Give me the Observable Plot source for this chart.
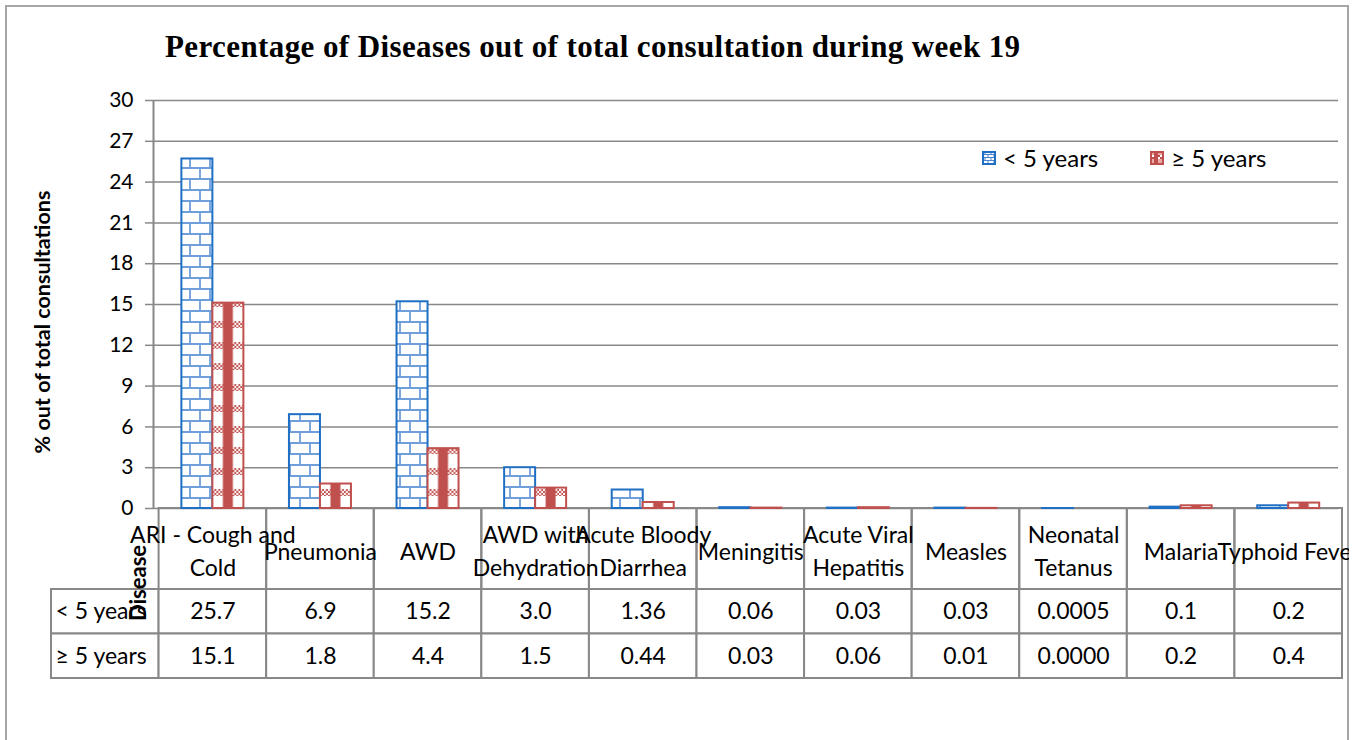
<!DOCTYPE html>
<html>
<head>
<meta charset="utf-8">
<script src="https://cdn.jsdelivr.net/npm/d3@7"></script>
<script src="https://cdn.jsdelivr.net/npm/@observablehq/plot@0.6"></script>
<style>
  html, body { margin: 0; padding: 0; background: #fff; }
  #wrap { position: relative; width: 1355px; height: 740px; overflow: hidden; background: #fff; font-family: Lato, sans-serif; }
  #frame { position: absolute; left: 5px; top: 5px; width: 1344px; height: 800px; border: 2px solid #a6a6a6; box-sizing: border-box; }
  #title { position: absolute; left: 165px; top: 29px; font-family: "Liberation Serif", serif; font-weight: bold; font-size: 31px; letter-spacing: 0.4px; white-space: nowrap; color: #000; }
  .vlabel { position: absolute; font-weight: bold; white-space: nowrap; transform: translate(-50%, -50%) rotate(-90deg); color: #000; }
  #chart, #table { position: absolute; left: 0; }
  #legend { position: absolute; top: 143px; left: 982px; font-size: 24px; display: flex; align-items: center; white-space: nowrap; }
  #legend .item { display: flex; align-items: center; }
  #legend svg { margin-right: 7px; }
  #defs { position: absolute; width: 0; height: 0; }
</style>
</head>
<body>
<div id="wrap">
  <div id="frame"></div>
  <div id="title">Percentage of Diseases out of total consultation during week 19</div>
  <div id="chart"></div>
  <div id="table"></div>
  <div class="vlabel" id="ytitle" style="left:42px; top:322px; font-size:21.5px;">% out of total consultations</div>
  <div class="vlabel" id="xtitle" style="left:137px; top:583px; font-size:22px;">Disease</div>
  <div id="legend"></div>
</div>
<script>
// ---------- data ----------
const categories = ["ARI - Cough and Cold", "Pneumonia", "AWD", "AWD with Dehydration", "Acute Bloody Diarrhea",
  "Meningitis", "Acute Viral Hepatitis", "Measles", "Neonatal Tetanus", "Malaria", "Typhoid Fever"];
const categoryLabels = ["ARI - Cough and\nCold", "Pneumonia", "AWD", "AWD with\nDehydration", "Acute Bloody\nDiarrhea",
  "Meningitis", "Acute Viral\nHepatitis", "Measles", "Neonatal\nTetanus", "Malaria", "Typhoid Fever"];
const seriesNames = ["< 5 years", "≥ 5 years"];
const under5 = ["25.7", "6.9", "15.2", "3.0", "1.36", "0.06", "0.03", "0.03", "0.0005", "0.1", "0.2"];
const over5  = ["15.1", "1.8", "4.4", "1.5", "0.44", "0.03", "0.06", "0.01", "0.0000", "0.2", "0.4"];
const yTicks = [0, 3, 6, 9, 12, 15, 18, 21, 24, 27, 30];

// ---------- layout / style ----------
const SVG_W = 1349;
const TABLE_LEFT = 51, TABLE_RIGHT = 1342, AXIS_X = 153, GRID_RIGHT = 1338;
const Y_TOP = 100, Y_ZERO = 508, HEADER_H = 81, ROW_H = 44.5;
const BAR_W = 31;
const GRAY = "#888888";
const BLUE = "#1f6fc4", RED = "#c0504d";
const ROWHEAD = "\u0000rowhead";
const cols = [ROWHEAD, ...categories];
const step = (TABLE_RIGHT - TABLE_LEFT) / cols.length;
const half = step / 2;

// ---------- patterns ----------
const redX0 = TABLE_LEFT + step + half; // left edge of first ≥5 bar (repeats every step)
const defs = `
<svg id="defs" xmlns="http://www.w3.org/2000/svg"><defs>
  <pattern id="brick" patternUnits="userSpaceOnUse" x="0" y="${Y_ZERO}" width="20" height="22">
    <rect width="20" height="22" fill="#fff"/>
    <path d="M0 1H20M0 12H20M10 1V12M0 12V23M20 12V23" stroke="#6e9fdb" stroke-width="1.8" fill="none"/>
  </pattern>
  <pattern id="brickSmall" patternUnits="userSpaceOnUse" width="6" height="6">
    <rect width="6" height="6" fill="#fff"/>
    <path d="M0 0.5H6M0 3.5H6M3 0.5V3.5M0 3.5V6.5M6 3.5V6.5" stroke="#4a86d0" stroke-width="1" fill="none"/>
  </pattern>
  <pattern id="checker" patternUnits="userSpaceOnUse" width="4" height="4">
    <rect width="4" height="4" fill="#fff"/>
    <rect width="2" height="2" fill="${RED}"/><rect x="2" y="2" width="2" height="2" fill="${RED}"/>
  </pattern>
  <pattern id="plaid" patternUnits="userSpaceOnUse" x="${redX0}" y="${Y_ZERO}" width="${step}" height="21">
    <rect width="${step}" height="21" fill="#fff"/>
    <rect x="0" y="2" width="${BAR_W + 2}" height="7" fill="url(#checker)"/>
    <rect x="${BAR_W / 2 - 5}" y="0" width="10" height="21" fill="${RED}"/>
  </pattern>
  <pattern id="plaidSmall" patternUnits="userSpaceOnUse" width="12" height="8">
    <rect width="12" height="8" fill="#e9a9a7"/>
    <rect x="0" y="4" width="12" height="4" fill="url(#checker)"/>
    <rect x="4" y="0" width="4" height="8" fill="${RED}"/>
  </pattern>
</defs></svg>`;
document.getElementById("wrap").insertAdjacentHTML("afterbegin", defs);

// ---------- chart ----------
const bars = seriesNames.flatMap((s, si) =>
  categories.map((c, i) => ({disease: c, series: s, value: +(si ? over5 : under5)[i]})));

const chart = Plot.plot({
  width: SVG_W,
  height: Y_ZERO + HEADER_H,
  marginTop: Y_TOP,
  marginBottom: HEADER_H,
  marginLeft: AXIS_X,
  marginRight: SVG_W - GRID_RIGHT,
  style: {fontFamily: "Lato, sans-serif", background: "transparent", overflow: "hidden", color: "#000"},
  x: {domain: cols, range: [TABLE_LEFT, TABLE_RIGHT], padding: 0, round: false, axis: null},
  y: {domain: [0, 30], axis: null},
  marks: [
    Plot.ruleY(yTicks, {stroke: GRAY, strokeWidth: 1.5}),
    Plot.ruleX([ROWHEAD], {x: d => d, y1: 0, y2: 30, dx: AXIS_X - (TABLE_LEFT + half), stroke: GRAY, strokeWidth: 2}),
    Plot.axisY({ticks: yTicks, tickSize: 8, tickFormat: () => "", label: null, stroke: GRAY, strokeWidth: 1.5}),
    Plot.axisY({ticks: yTicks, tickSize: 0, tickPadding: 20, fontSize: 21, label: null, fill: "#000"}),
    // header row of the data table (category names)
    Plot.barY(categories, {x: d => d, y1: 0, y2: 0, insetBottom: -HEADER_H, fill: "none", stroke: GRAY, strokeWidth: 2}),
    Plot.barY(bars.filter(d => d.series === seriesNames[0]), {
      x: "disease", y: "value", insetLeft: half - BAR_W, insetRight: half,
      fill: "url(#brick)", stroke: BLUE, strokeWidth: 2
    }),
    Plot.barY(bars.filter(d => d.series === seriesNames[1]), {
      x: "disease", y: "value", insetLeft: half, insetRight: half - BAR_W,
      fill: "url(#plaid)", stroke: RED, strokeWidth: 2
    }),
    Plot.text(categories, {
      x: d => d, text: (d, i) => categoryLabels[i], frameAnchor: "bottom", dy: HEADER_H / 2,
      lineAnchor: "middle", lineHeight: 1.45, fontSize: 23, fill: "#000"
    })
  ]
});
document.getElementById("chart").style.top = "0px";
document.getElementById("chart").appendChild(chart);

// ---------- data table ----------
const tableData = seriesNames.flatMap((s, si) => [
  {col: ROWHEAD, row: s, text: s, head: true},
  ...categories.map((c, i) => ({col: c, row: s, text: (si ? over5 : under5)[i], head: false}))
]);
const table = Plot.plot({
  width: SVG_W,
  height: 2 * ROW_H + 2,
  marginTop: 1, marginBottom: 1, marginLeft: 0, marginRight: 0,
  style: {fontFamily: "Lato, sans-serif", background: "transparent", overflow: "hidden", color: "#000"},
  x: {domain: cols, range: [TABLE_LEFT, TABLE_RIGHT], padding: 0, round: false, axis: null},
  y: {domain: seriesNames, padding: 0, round: false, axis: null},
  marks: [
    Plot.cell(tableData, {x: "col", y: "row", inset: 0, fill: "#fff", stroke: GRAY, strokeWidth: 2}),
    Plot.text(tableData.filter(d => !d.head), {x: "col", y: "row", text: "text", fontSize: 23, fill: "#000"}),
    Plot.text(tableData.filter(d => d.head), {x: "col", y: "row", text: "text", textAnchor: "start", dx: -half + 4, fontSize: 23, fill: "#000"})
  ]
});
document.getElementById("table").style.top = (Y_ZERO + HEADER_H - 1) + "px";
document.getElementById("table").appendChild(table);

// ---------- legend ----------
const legend = document.getElementById("legend");
const legendFill = ["url(#brickSmall)", "url(#plaidSmall)"];
const legendStroke = [BLUE, RED];
seriesNames.forEach((s, i) => {
  const item = document.createElement("div");
  item.className = "item";
  item.style.marginRight = i === 0 ? "52px" : "0";
  item.innerHTML = `<svg width="14" height="14"><rect x="1" y="1" width="12" height="12" fill="${legendFill[i]}" stroke="${legendStroke[i]}" stroke-width="2"/></svg><span>${s}</span>`;
  legend.appendChild(item);
});
</script>
</body>
</html>
